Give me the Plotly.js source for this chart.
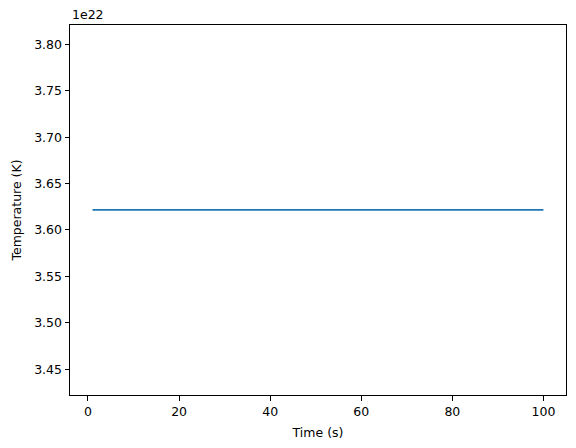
<!DOCTYPE html>
<html>
<head>
<meta charset="utf-8">
<script src="https://cdn.plot.ly/plotly-3.0.1.min.js"></script>
<style>
  body { margin: 0; background: #fff; }
  #plot { width: 576px; height: 448px; }
</style>
</head>
<body>
<div id="plot"></div>
<script>
// flat line from t=1 s to t=100 s
var time = [1, 100];
var temperature = [3.6216e22, 3.6216e22];

var xTicks = [0, 20, 40, 60, 80, 100];
var yTicks = [3.45e22, 3.50e22, 3.55e22, 3.60e22, 3.65e22, 3.70e22, 3.75e22, 3.80e22];
var yTickLabels = ["3.45", "3.50", "3.55", "3.60", "3.65", "3.70", "3.75", "3.80"];

var trace = {
  x: time,
  y: temperature,
  mode: 'lines',
  type: 'scatter',
  line: { color: '#1f77b4', width: 1.9 },
  hoverinfo: 'skip'
};

var axisStyle = {
  showline: true,
  mirror: true,
  linecolor: '#000',
  linewidth: 1,
  showgrid: false,
  zeroline: false,
  ticks: 'outside',
  ticklen: 4.5,
  tickwidth: 1,
  tickcolor: '#000',
  tickfont: { family: 'DejaVu Sans', size: 12.5, color: '#000' }
};

var layout = {
  width: 576,
  height: 448,
  margin: { l: 70, r: 10, t: 25, b: 53 },
  paper_bgcolor: '#fff',
  plot_bgcolor: '#fff',
  showlegend: false,
  font: { family: 'DejaVu Sans', size: 12.5, color: '#000' },
  xaxis: Object.assign({}, axisStyle, {
    range: [-3.95, 104.95],
    tickmode: 'array',
    tickvals: xTicks,
    title: { text: 'Time (s)', font: { family: 'DejaVu Sans', size: 12.5 }, standoff: 10 }
  }),
  yaxis: Object.assign({}, axisStyle, {
    range: [3.4222e22, 3.8208e22],
    tickmode: 'array',
    tickvals: yTicks,
    ticktext: yTickLabels,
    title: { text: 'Temperature (K)', font: { family: 'DejaVu Sans', size: 12.5 }, standoff: 9 }
  }),
  annotations: [{
    text: '1e22',
    xref: 'paper', yref: 'paper',
    x: 0, y: 1,
    xanchor: 'left', yanchor: 'bottom',
    yshift: 1,
    showarrow: false,
    font: { family: 'DejaVu Sans', size: 12.5, color: '#000' }
  }]
};

Plotly.newPlot('plot', [trace], layout, { staticPlot: true });
</script>
</body>
</html>
